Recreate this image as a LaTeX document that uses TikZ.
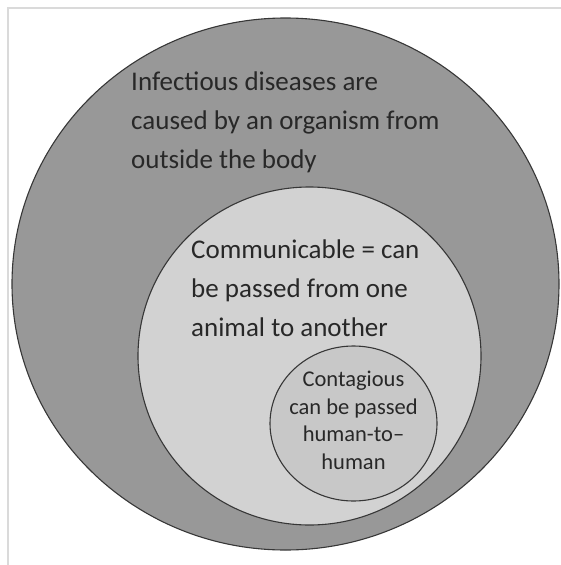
\documentclass[tikz,border=0pt]{standalone}
\usepackage{fontspec}
\setmainfont{Carlito}
\usetikzlibrary{
    positioning,
    shapes.geometric
}
\definecolor{OuterGray}{RGB}{152,152,152}
\definecolor{MiddleGray}{RGB}{210,210,210}
\definecolor{InnerGray}{RGB}{200,200,200}
\definecolor{EdgeGray}{RGB}{55,55,55}
\definecolor{InkGray}{RGB}{40,40,40}
\definecolor{FrameGray}{RGB}{218,218,218}

\begin{document}
\begin{tikzpicture}[
    x=1pt,
    y=-1pt,
%
    bubble/.style={
        ellipse,
        draw=EdgeGray,
        line width=1.1pt,
        inner sep=0pt
    },
%
    bigtxt/.style={
        anchor=base west,
        align=left,
        inner sep=0pt,
        text=InkGray,
        font=\fontsize{27}{39}\selectfont
    },
%
    smalltxt/.style={
        align=center,
        inner sep=0pt,
        text=InkGray,
        font=\fontsize{22.5}{27.5}\selectfont
    },
%
    frame/.style={
        draw=FrameGray,
        line width=1.4pt
    }
]
\useasboundingbox (0,0) rectangle (561,565);
%
% Light frame along the top and left edges.
%
\draw[frame] (8,565) -- (8,8) -- (561,8);
%
% The three nested sets.
%
\node[
    bubble,
    fill=OuterGray,
    minimum width=547pt,
    minimum height=532pt
] (infectious) at (285.5,284) {};
\node[
    bubble,
    fill=MiddleGray,
    minimum width=343pt,
    minimum height=338pt
] (communicable) at (309.5,356) {};
\node[
    bubble,
    fill=InnerGray,
    minimum width=167pt,
    minimum height=155pt
] (contagious) at (353.5,423.5) {};
%
% Texts of the sets (the larger two anchored at their last line).
%
\node[bigtxt] (infectioustxt) at (131,168) {
    Infectious diseases are\\
    caused by an organism from\\
    outside the body
};
\node[bigtxt] (communicabletxt) at (191,336) {
    Communicable = can\\
    be passed from one\\
    animal to another
};
\node[
    smalltxt,
    yshift=3pt
] (contagioustxt) at (contagious.center) {
    Contagious\\
    can be passed\\
    human-to\textendash\\
    human
};
%
\end{tikzpicture}
\end{document}
